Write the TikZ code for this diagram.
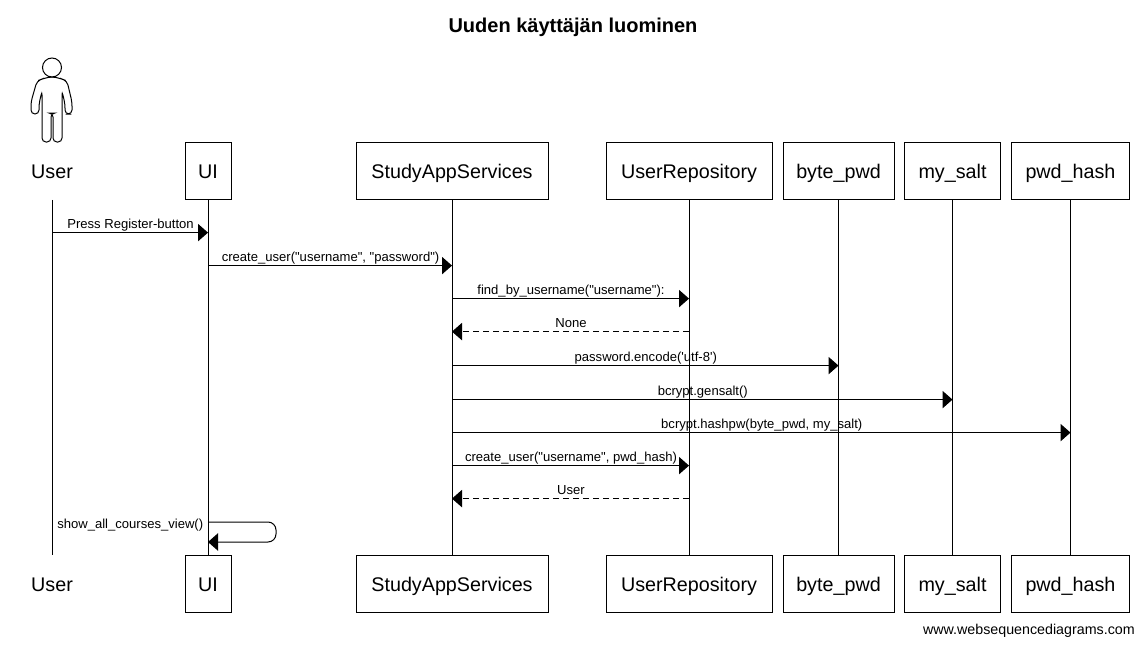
\documentclass[tikz,border=0pt]{standalone}
\usepackage{fontspec}
\setmainfont{Liberation Sans}
\newfontfamily\msgfont{Liberation Sans}
\usetikzlibrary{arrows.meta, positioning}

\tikzset{
  lifebox/.style={draw,line width=.75pt,minimum height=42.75pt,inner sep=0pt,text height=14pt,text depth=3pt,font=\fontsize{14.8}{18}\selectfont},
  lifeplain/.style={minimum height=42.75pt,inner sep=0pt,text height=14pt,text depth=3pt,font=\fontsize{14.8}{18}\selectfont},
  lifeline/.style={line width=.75pt},
  msg/.style={line width=.75pt,-{Triangle[length=7.5pt,width=13pt]}},
  reply/.style={msg,dash pattern=on 4.5pt off 3pt},
  msglabel/.style={above,inner sep=0pt,text depth=0pt,yshift=3pt,xshift=.4pt,font=\msgfont\fontsize{9.8}{11}\selectfont}
}

\begin{document}
\begin{tikzpicture}[x=.75pt,y=-.75pt]
\useasboundingbox (0,0) rectangle (1143,646);
\node [font=\bfseries\fontsize{15}{18}\selectfont] (title) at (573,27.5) {Uuden käyttäjän luominen};
% stick figure
\draw [line width=.75pt] (52,67.5) circle (9.5);
\draw [line width=.75pt,rounded corners=3pt] (52,76.5) -- (42,79) -- (37,81) -- (31,102) -- (31,114) -- (39,114) -- (39,104) -- (42,91) -- (42,142) -- (51,142) -- (51,113) -- (53,113) -- (53,142) -- (62,142) -- (62,91) -- (65,104) -- (65,114) -- (72,114) -- (72,102) -- (67,81) -- (62,79) -- cycle;
% top row
\node [lifeplain] (User) at (52,171) {User};
\node [lifebox,minimum width=34.5pt] (UI) at (208,171) {UI};
\node [lifebox,minimum width=144pt] (Services) at (452,171) {StudyAppServices};
\node [lifebox,minimum width=124.5pt] (Repo) at (689,171) {UserRepository};
\node [lifebox,minimum width=83.25pt] (BytePwd) at (838.5,171) {byte\_pwd};
\node [lifebox,minimum width=72pt] (MySalt) at (952.5,171) {my\_salt};
\node [lifebox,minimum width=88.5pt] (PwdHash) at (1070.5,171) {pwd\_hash};
% bottom row
\node [lifeplain] (User2) at (52,584) {User};
\node [lifebox,minimum width=34.5pt] (UI2) at (208,584) {UI};
\node [lifebox,minimum width=144pt] (Services2) at (452,584) {StudyAppServices};
\node [lifebox,minimum width=124.5pt] (Repo2) at (689,584) {UserRepository};
\node [lifebox,minimum width=83.25pt] (BytePwd2) at (838.5,584) {byte\_pwd};
\node [lifebox,minimum width=72pt] (MySalt2) at (952.5,584) {my\_salt};
\node [lifebox,minimum width=88.5pt] (PwdHash2) at (1070.5,584) {pwd\_hash};
% lifelines
\draw [lifeline] (User.south) -- (User2.north);
\draw [lifeline] (UI.south) -- (UI2.north);
\draw [lifeline] (Services.south) -- (Services2.north);
\draw [lifeline] (Repo.south) -- (Repo2.north);
\draw [lifeline] (BytePwd.south) -- (BytePwd2.north);
\draw [lifeline] (MySalt.south) -- (MySalt2.north);
\draw [lifeline] (PwdHash.south) -- (PwdHash2.north);
% messages
\draw [msg] (User.south |- 0,232.6) -- node [msglabel] {Press Register-button} (UI.south |- 0,232.6);
\draw [msg] (UI.south |- 0,265.6) -- node [msglabel] {create\_user("username", "password")} (Services.south |- 0,265.6);
\draw [msg] (Services.south |- 0,298.6) -- node [msglabel] {find\_by\_username("username"):} (Repo.south |- 0,298.6);
\draw [reply] (Repo.south |- 0,331.6) -- node [msglabel] {None} (Services.south |- 0,331.6);
\draw [msg] (Services.south |- 0,365.6) -- node [msglabel] {password.encode('utf-8')} (BytePwd.south |- 0,365.6);
\draw [msg] (Services.south |- 0,399.6) -- node [msglabel] {bcrypt.gensalt()} (MySalt.south |- 0,399.6);
\draw [msg] (Services.south |- 0,432.6) -- node [msglabel] {bcrypt.hashpw(byte\_pwd, my\_salt)} (PwdHash.south |- 0,432.6);
\draw [msg] (Services.south |- 0,465.6) -- node [msglabel] {create\_user("username", pwd\_hash)} (Repo.south |- 0,465.6);
\draw [reply] (Repo.south |- 0,498.6) -- node [msglabel] {User} (Services.south |- 0,498.6);
\draw [msg,rounded corners=6pt] (UI.south |- 0,522) -- ++(68,0) -- ++(0,20) -- (UI.south |- 0,542);
\node [left,inner sep=0pt,font=\fontsize{9.8}{11}\selectfont] (selfcall) at (203.5,525.5) {show\_all\_courses\_view()};
\node [left,inner sep=0pt,font=\fontsize{10.7}{12}\selectfont] (credit) at (1135,631) {www.websequencediagrams.com};
\end{tikzpicture}
\end{document}
